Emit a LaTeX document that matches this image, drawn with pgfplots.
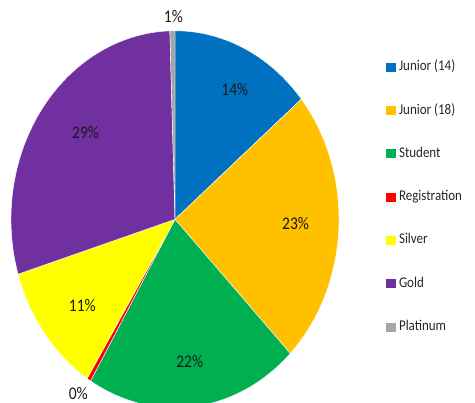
\documentclass[border=0pt]{standalone}
\usepackage{pgfplots}
\pgfplotsset{compat=1.18}
\usepackage{pgfplotstable}
\usepackage{graphicx}
\usepackage{fontspec}
\setmainfont{Carlito}
\definecolor{cJa}{HTML}{0070C0}
\definecolor{cJb}{HTML}{FFC000}
\definecolor{cSt}{HTML}{00B050}
\definecolor{cRe}{HTML}{FF0000}
\definecolor{cSi}{HTML}{FFFF00}
\definecolor{cGo}{HTML}{7030A0}
\definecolor{cPl}{HTML}{A5A5A5}
\newcommand{\vs}[1]{\scalebox{1}[1.146]{#1}}
\pgfplotstableread[col sep=comma]{
value,color,name
14.0,cJa,Junior (14)
23.6,cJb,Junior (18)
21.0,cSt,Student
0.4,cRe,Registration
11.3,cSi,Silver
29.2,cGo,Gold
0.5,cPl,Platinum
}\piedata
\begin{document}
\begin{tikzpicture}
\useasboundingbox (0pt,0pt) rectangle (475pt,403pt);
\clip (0pt,0pt) rectangle (475pt,403pt);
\begin{axis}[
  at={(175pt,183.7pt)}, anchor=center,
  scale only axis, width=328pt, height=377pt,
  xmin=-1, xmax=1, ymin=-1, ymax=1,
  hide axis, clip=false,
  legend image code/.code={\fill[#1,draw=none] (0pt,-4.5pt) rectangle (9.5pt,4.5pt); \path (12.5pt,0pt);},
  legend cell align=left,
  legend style={at={(axis description cs:1.1437,0.921)}, anchor=north west,
    draw=none, fill=none, inner sep=0pt,
    font=\fontsize{13}{15}\selectfont, text=black!85,
    nodes={inner sep=0pt, text height=10pt, text depth=3pt},
    row sep=30.3pt},
]
\def\cum{0}
\pgfplotsforeachungrouped \i in {0,...,6}{
  \pgfplotstablegetelem{\i}{value}\of\piedata \let\v\pgfplotsretval
  \pgfplotstablegetelem{\i}{color}\of\piedata \let\c\pgfplotsretval
  \pgfplotstablegetelem{\i}{name}\of\piedata \let\n\pgfplotsretval
  \pgfmathsetmacro\a{90-3.6*\cum}
  \pgfmathsetmacro\b{90-3.6*(\cum+\v)}
  \edef\tmp{\noexpand\addplot[fill=\c, draw=white, line width=0.4pt, domain=\b:\a, samples=80] ({cos(x)},{sin(x)}) -- (axis cs:0,0) -- cycle; \noexpand\addlegendentry{\noexpand\vs{\n}}}
  \tmp
  \pgfmathsetmacro\cum{\cum+\v}
}
\begin{scope}[every node/.style={font=\fontsize{15.5}{17}\selectfont, text=black!90}]
\node at (axis cs:0.365,0.69) {\vs{14\%}};
\node at (axis cs:0.735,-0.02) {\vs{23\%}};
\node at (axis cs:0.09,-0.755) {\vs{22\%}};
\node at (axis cs:-0.565,-0.46) {\vs{11\%}};
\node at (axis cs:-0.545,0.46) {\vs{29\%}};
\node at (axis cs:-0.01,1.075) {\vs{1\%}};
\node at (axis cs:-0.59,-0.925) {\vs{0\%}};
\end{scope}
\end{axis}
\end{tikzpicture}
\end{document}
